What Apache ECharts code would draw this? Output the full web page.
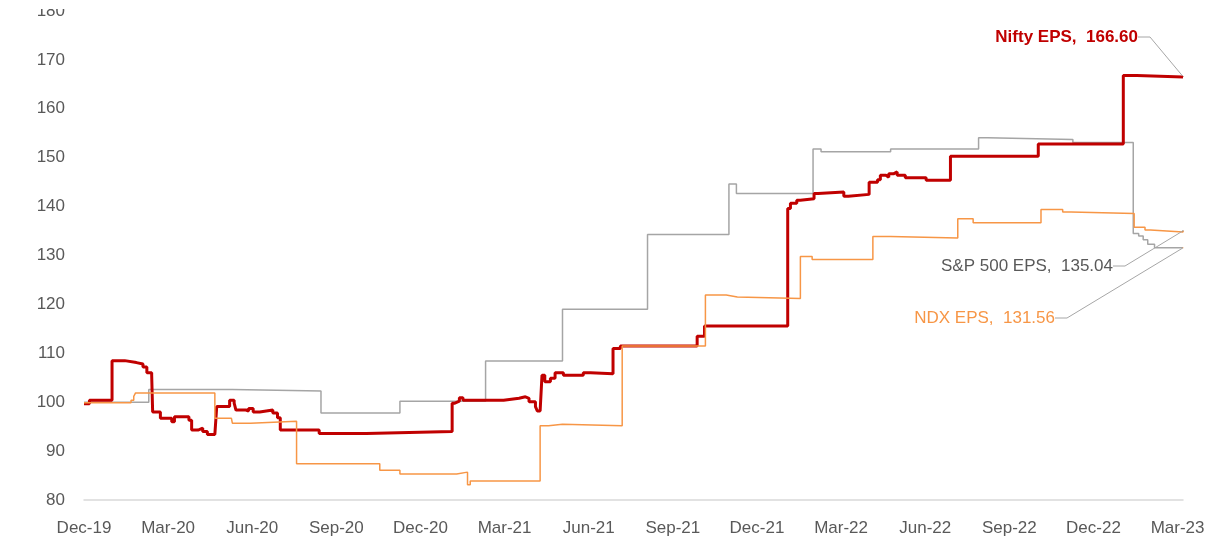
<!DOCTYPE html>
<html lang="en">
<head>
    <meta charset="UTF-8">
    <title>EPS index</title>
    <script src="https://cdn.jsdelivr.net/npm/echarts@6/dist/echarts.min.js"></script>
    <style>
        body { margin: 0; background: #fff; }
    </style>
</head>
<body>
    <div id="main" style="width: 1209px; height: 551px;"></div>

    <script type="text/javascript">
        // x labels, one every 3 months starting Dec-19
        let xLabels = ['Dec-19', 'Mar-20', 'Jun-20', 'Sep-20', 'Dec-20', 'Mar-21', 'Jun-21',
            'Sep-21', 'Dec-21', 'Mar-22', 'Jun-22', 'Sep-22', 'Dec-22', 'Mar-23']

        let niftyDates = ['2019-12-01', '2019-12-07', '2020-01-01', '2020-01-15', '2020-01-28', '2020-02-04',
            '2020-02-08', '2020-02-13', '2020-02-14', '2020-02-22', '2020-03-05', '2020-03-08', '2020-03-24',
            '2020-03-27', '2020-04-03', '2020-04-08', '2020-04-13', '2020-04-21', '2020-04-23', '2020-05-07',
            '2020-05-12', '2020-05-14', '2020-05-25', '2020-05-28', '2020-06-02', '2020-06-09', '2020-06-23',
            '2020-06-28', '2020-07-01', '2020-08-13', '2020-10-03', '2021-01-05', '2021-01-08', '2021-01-13',
            '2021-01-17', '2021-02-28', '2021-03-17', '2021-03-24', '2021-03-28', '2021-04-04', '2021-04-06',
            '2021-04-09', '2021-04-11', '2021-04-14', '2021-04-20', '2021-04-25', '2021-05-04', '2021-05-26',
            '2021-06-03', '2021-06-27', '2021-07-05', '2021-09-27', '2021-10-05', '2022-01-04', '2022-01-07',
            '2022-01-14', '2022-01-18', '2022-02-02', '2022-02-06', '2022-03-04', '2022-03-09', '2022-04-01',
            '2022-04-10', '2022-04-13', '2022-04-19', '2022-04-22', '2022-04-27', '2022-05-01', '2022-05-10',
            '2022-06-02', '2022-06-28', '2022-10-02', '2023-01-03', '2023-01-18', '2023-03-07']
        let niftyEps = [99.7, 100.4, 108.5, 108.1, 107.8, 107.2,
            106.0, 105.5, 98.0, 96.7, 96.0, 97.0, 96.3,
            94.3, 94.7, 94.0, 93.4, 93.1, 99.1, 100.4,
            99.8, 98.4, 98.2, 98.7, 98.0, 98.4, 97.8,
            96.8, 94.3, 93.6, 94.0, 99.8, 100.2, 100.9,
            100.4, 100.8, 101.1, 100.8, 100.1, 99.1, 98.2,
            98.4, 105.5, 104.2, 104.9, 106.0, 105.5, 106.0,
            105.8, 111.0, 111.5, 113.5, 115.6, 139.6, 140.7,
            141.3, 141.6, 142.7, 143.0, 142.1, 142.5, 145.0,
            145.5, 146.4, 146.0, 146.7, 147.1, 146.4, 145.9,
            145.4, 150.3, 152.8, 166.8, 166.5, 166.6]

        let ndxDates = ['2019-12-01', '2020-02-10', '2020-05-10', '2020-08-15', '2020-11-09', '2021-02-10',
            '2021-05-03', '2021-08-04', '2021-11-01', '2021-11-09', '2022-02-01', '2022-02-09', '2022-04-24',
            '2022-07-29', '2022-08-08', '2022-11-09', '2023-01-14', '2023-01-20', '2023-01-25', '2023-01-30',
            '2023-02-06', '2023-03-07']
        let ndxEps = [100.0, 102.6, 102.3, 97.8, 100.2, 108.4,
            119.0, 134.3, 144.6, 142.7, 151.8, 151.2, 151.8,
            154.1, 153.7, 153.1, 134.5, 134.0, 133.2, 132.3,
            131.56, 131.56]

        let spxDates = ['2019-12-01', '2020-01-22', '2020-01-25', '2020-01-27', '2020-04-21', '2020-05-09',
            '2020-05-10', '2020-05-30', '2020-07-19', '2020-10-18', '2020-11-09', '2021-01-10', '2021-01-22',
            '2021-01-25', '2021-04-09', '2021-04-18', '2021-05-03', '2021-07-07', '2021-10-06', '2021-10-29',
            '2021-11-10', '2022-01-18', '2022-01-31', '2022-04-05', '2022-04-24', '2022-07-06', '2022-07-23',
            '2022-10-05', '2022-10-29', '2022-11-07', '2023-01-15', '2023-01-27', '2023-02-02', '2023-03-07']
        let spxEps = [99.9, 100.4, 101.2, 101.9, 96.7, 96.3,
            95.7, 96.1, 87.4, 86.1, 85.3, 85.7, 83.1,
            83.9, 95.2, 95.5, 95.2, 111.5, 121.9, 121.5,
            121.2, 129.8, 129.2, 133.9, 133.6, 137.5, 136.7,
            139.4, 138.9, 138.6, 135.8, 135.2, 134.8, 135.04]

        let font = 'Liberation Sans, Arial, sans-serif'

        // months since 1 Dec 2019, so every quarter gets the same width
        function monthPos(d) {
            let [y, m, day] = d.split('-').map(Number)
            let dim = new Date(y, m, 0).getDate()
            return (y - 2019) * 12 + (m - 12) + (day - 1) / dim
        }

        function toPoints(dates, values) {
            return dates.map((d, i) => [monthPos(d), values[i]])
        }

        function endPoint(dates, values) {
            let n = dates.length - 1
            return [[monthPos(dates[n]), values[n]]]
        }

        let leader = { show: true, length2: 12, lineStyle: { color: '#a6a6a6', width: 1 } }

        function endLabel(name, color, bold, x, y) {
            return {
                name: name,
                type: 'scatter',
                symbolSize: 1,
                itemStyle: { color: color, opacity: 1 },
                silent: true,
                z: 5,
                label: {
                    show: true,
                    position: 'left',
                    formatter: p => name + ',  ' + p.value[1].toFixed(2),
                    color: color,
                    opacity: 1,
                    fontFamily: font,
                    fontSize: 17,
                    fontWeight: bold ? 'bold' : 'normal'
                },
                labelLine: leader,
                labelLayout: { x: x, y: y, align: 'right', verticalAlign: 'middle' }
            }
        }

        let options = {
            animation: false,
            grid: { left: 84, right: 26, top: 11, bottom: 51 },
            // the top of the picture is cut through the 180 label
            graphic: [{
                type: 'rect',
                left: 0, top: 0,
                shape: { width: 80, height: 9 },
                style: { fill: '#fff' },
                z: 100
            }],
            xAxis: {
                type: 'value',
                min: 0,
                max: monthPos('2023-03-07'),
                interval: 3,
                axisLine: { lineStyle: { color: '#d9d9d9', width: 1.5 } },
                axisTick: { show: false },
                splitLine: { show: false },
                axisLabel: {
                    color: '#595959',
                    fontFamily: font,
                    fontSize: 17,
                    margin: 20,
                    showMaxLabel: false,
                    formatter: v => {
                        let k = Math.round(v / 3)
                        return Math.abs(v - k * 3) < 1e-6 ? xLabels[k] : ''
                    }
                }
            },
            yAxis: {
                type: 'value',
                min: 80,
                max: 180,
                interval: 10,
                axisLine: { show: false },
                axisTick: { show: false },
                splitLine: { show: false },
                axisLabel: { color: '#595959', fontFamily: font, fontSize: 17, margin: 19 }
            },
            series: [
                {
                    name: 'NDX EPS',
                    type: 'line',
                    step: 'end',
                    showSymbol: false,
                    lineStyle: { color: '#a5a5a5', width: 1.5 },
                    data: toPoints(ndxDates, ndxEps)
                },
                {
                    name: 'Nifty EPS',
                    type: 'line',
                    step: 'end',
                    showSymbol: false,
                    lineStyle: { color: '#c00000', width: 3 },
                    data: toPoints(niftyDates, niftyEps)
                },
                {
                    name: 'S&P 500 EPS',
                    type: 'line',
                    step: 'end',
                    showSymbol: false,
                    lineStyle: { color: '#f79646', width: 1.5 },
                    data: toPoints(spxDates, spxEps)
                },
                Object.assign(endLabel('Nifty EPS', '#c00000', true, 1138, 37), { data: endPoint(niftyDates, niftyEps) }),
                Object.assign(endLabel('S&P 500 EPS', '#595959', false, 1113, 266), { data: endPoint(spxDates, spxEps) }),
                Object.assign(endLabel('NDX EPS', '#f79646', false, 1055, 318), { data: endPoint(ndxDates, ndxEps) })
            ]
        }

        let myChart = echarts.init(document.getElementById('main'))
        myChart.setOption(options)
    </script>
</body>
</html>
